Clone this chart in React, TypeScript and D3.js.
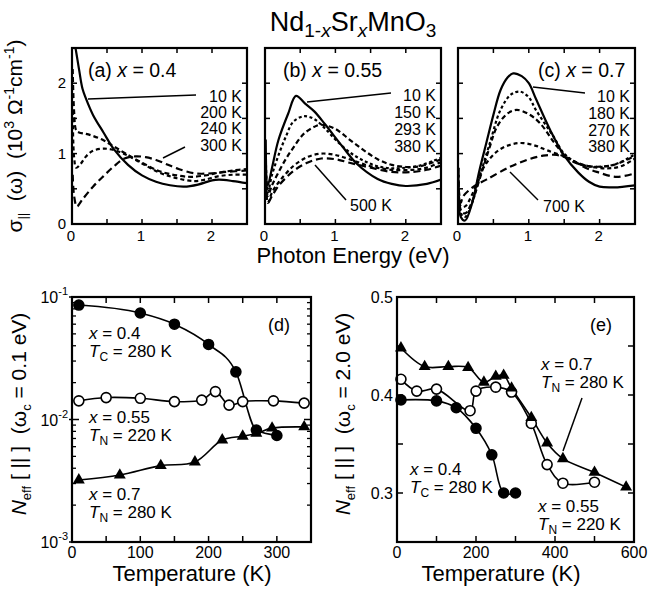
import React from 'react';
import * as d3 from 'd3';

const FONT = "'Liberation Sans', Arial, Helvetica, sans-serif";
type Pt = [number, number];

// ---------- Panel (a) x = 0.4 : [photon energy eV, sigma 10^3 S/cm]
const a10K: Pt[] = [[0.01,2.7],[0.05,2.5],[0.1,2.2],[0.15,1.92],[0.2,1.78],[0.3,1.55],[0.45,1.3],[0.6,1.06],[0.8,0.84],[1.0,0.69],[1.2,0.6],[1.4,0.55],[1.6,0.53],[1.8,0.56],[2.0,0.62],[2.1,0.63],[2.3,0.61],[2.5,0.58]];
const a200K: Pt[] = [[0.01,2.2],[0.03,1.6],[0.06,1.33],[0.1,1.3],[0.2,1.28],[0.3,1.25],[0.45,1.19],[0.6,1.1],[0.8,0.98],[1.0,0.87],[1.25,0.75],[1.5,0.69],[1.7,0.67],[1.9,0.69],[2.1,0.73],[2.3,0.76],[2.5,0.78]];
const a240K: Pt[] = [[0.01,1.6],[0.03,0.95],[0.06,0.8],[0.12,0.85],[0.2,0.96],[0.3,1.04],[0.45,1.07],[0.6,1.05],[0.8,0.97],[1.0,0.86],[1.25,0.73],[1.5,0.65],[1.75,0.61],[1.9,0.63],[2.1,0.68],[2.3,0.7],[2.5,0.7]];
const a300K: Pt[] = [[0.01,0.7],[0.03,0.4],[0.07,0.25],[0.15,0.35],[0.3,0.53],[0.45,0.68],[0.6,0.82],[0.75,0.93],[0.9,0.96],[1.05,0.95],[1.2,0.91],[1.35,0.85],[1.5,0.79],[1.75,0.72],[2.0,0.72],[2.2,0.74],[2.5,0.76]];

// ---------- Panel (b) x = 0.55
const b10K: Pt[] = [[0.01,1.2],[0.04,0.55],[0.1,0.8],[0.19,1.19],[0.33,1.57],[0.44,1.82],[0.57,1.71],[0.7,1.6],[0.85,1.42],[1.1,1.1],[1.3,0.86],[1.6,0.64],[1.8,0.57],[2.0,0.54],[2.3,0.57],[2.5,0.63]];
const b150K: Pt[] = [[0.01,1.0],[0.04,0.45],[0.1,0.7],[0.2,1.0],[0.3,1.25],[0.4,1.45],[0.55,1.53],[0.7,1.49],[0.85,1.36],[1.0,1.2],[1.2,1.02],[1.4,0.9],[1.6,0.82],[1.8,0.79],[2.0,0.8],[2.2,0.83],[2.4,0.9],[2.5,0.94]];
const b293K: Pt[] = [[0.01,0.8],[0.04,0.4],[0.1,0.55],[0.2,0.75],[0.3,0.93],[0.4,1.08],[0.55,1.28],[0.7,1.38],[0.8,1.41],[1.0,1.35],[1.2,1.2],[1.4,1.05],[1.6,0.92],[1.8,0.84],[2.0,0.81],[2.2,0.82],[2.4,0.88],[2.5,0.92]];
const b380K: Pt[] = [[0.01,0.7],[0.04,0.3],[0.1,0.45],[0.2,0.6],[0.4,0.82],[0.6,0.95],[0.8,1.0],[1.0,0.98],[1.2,0.92],[1.5,0.82],[1.8,0.77],[2.1,0.77],[2.3,0.8],[2.5,0.88]];
const b500K: Pt[] = [[0.01,0.6],[0.04,0.3],[0.1,0.4],[0.2,0.55],[0.4,0.75],[0.6,0.87],[0.8,0.93],[1.0,0.92],[1.2,0.87],[1.5,0.8],[1.8,0.74],[2.1,0.74],[2.3,0.77],[2.5,0.83]];

// ---------- Panel (c) x = 0.7
const c10K: Pt[] = [[0.01,0.8],[0.04,0.1],[0.1,0.05],[0.2,0.3],[0.3,0.75],[0.4,1.15],[0.5,1.55],[0.6,1.9],[0.7,2.08],[0.78,2.14],[0.9,2.1],[1.0,2.0],[1.1,1.78],[1.3,1.34],[1.5,0.97],[1.7,0.73],[1.85,0.6],[2.0,0.53],[2.2,0.52],[2.5,0.55]];
const c180K: Pt[] = [[0.01,0.7],[0.04,0.15],[0.1,0.1],[0.2,0.3],[0.3,0.65],[0.45,1.15],[0.6,1.62],[0.75,1.84],[0.88,1.88],[1.0,1.8],[1.1,1.62],[1.35,1.24],[1.5,1.0],[1.72,0.85],[2.0,0.81],[2.25,0.86],[2.5,0.99]];
const c270K: Pt[] = [[0.01,0.6],[0.04,0.2],[0.1,0.15],[0.2,0.32],[0.3,0.62],[0.45,1.1],[0.55,1.38],[0.7,1.57],[0.83,1.62],[1.0,1.56],[1.16,1.43],[1.4,1.1],[1.58,0.91],[1.86,0.82],[2.2,0.84],[2.5,0.97]];
const c380K: Pt[] = [[0.01,0.6],[0.04,0.25],[0.1,0.25],[0.2,0.42],[0.36,0.8],[0.55,1.03],[0.75,1.13],[0.92,1.15],[1.1,1.11],[1.25,1.05],[1.5,0.96],[1.77,0.84],[2.1,0.79],[2.3,0.82],[2.5,0.93]];
const c700K: Pt[] = [[0.01,0.5],[0.04,0.3],[0.07,0.39],[0.22,0.53],[0.4,0.63],[0.73,0.81],[1.0,0.92],[1.2,0.97],[1.4,0.98],[1.6,0.91],[1.8,0.8],[1.96,0.74],[2.24,0.67],[2.5,0.72]];

// ---------- Panel (d) N_eff (omega_c = 0.1 eV), log scale
const d04T = [10, 100, 150, 200, 240, 270, 300];
const d04V = [0.086, 0.074, 0.060, 0.041, 0.0245, 0.0082, 0.0074];
const d055T = [10, 50, 100, 150, 190, 210, 230, 250, 295, 340];
const d055V = [0.0142, 0.0151, 0.0149, 0.0140, 0.0144, 0.0169, 0.0131, 0.0140, 0.0142, 0.0136];
const d07T = [10, 70, 130, 180, 220, 250, 270, 293, 340];
const d07V = [0.00321, 0.00352, 0.0042, 0.0045, 0.0068, 0.0073, 0.0077, 0.0085, 0.0087];

// ---------- Panel (e) N_eff (omega_c = 2.0 eV)
const e04T = [10, 100, 150, 200, 240, 270, 300];
const e04V = [0.395, 0.394, 0.387, 0.366, 0.339, 0.300, 0.300];
const e055T = [10, 50, 100, 185, 200, 250, 290, 340, 380, 420, 500];
const e055V = [0.416, 0.404, 0.406, 0.384, 0.404, 0.408, 0.403, 0.371, 0.329, 0.310, 0.311];
const e07T = [10, 70, 130, 180, 220, 250, 270, 290, 340, 380, 420, 500, 580];
const e07V = [0.448, 0.429, 0.429, 0.428, 0.413, 0.419, 0.420, 0.407, 0.377, 0.351, 0.335, 0.321, 0.306];

const specXTicks = [0, 1, 2];
const specYTicks = [0, 1, 2];
const dXTicks = [0, 100, 200, 300];
const eXTicks = [0, 200, 400, 600];
const eYTicks = [0.3, 0.4, 0.5];

const TOP_T = 48, TOP_B = 224;
const BOT_T = 297, BOT_B = 542;

type Series = { data: Pt[]; dash?: string };
type Label = { text: string; y: number };

function SpecPanel({ id, left, right, series, yLabels, title, titleX, tempLabels, leaders, bottomLabel }: {
  id: string; left: number; right: number; series: Series[]; yLabels: boolean; title: string; titleX: number;
  tempLabels: Label[]; leaders: [number, number, number, number][]; bottomLabel: { text: string; x: number; y: number };
}) {
  const x = d3.scaleLinear().domain([0, 2.5]).range([left, right]);
  const y = d3.scaleLinear().domain([0, 2.5]).range([TOP_B, TOP_T]);
  const line = d3.line<Pt>().x(d => x(d[0])).y(d => y(d[1])).curve(d3.curveCatmullRom.alpha(0.5));
  const ticks = d3.range(0, 2.51, 0.5);
  const tl = 5;
  const titleParts = title.split('|');
  return (
    <g>
      <clipPath id={id}><rect x={left} y={TOP_T} width={right - left} height={TOP_B - TOP_T} /></clipPath>
      <g clipPath={`url(#${id})`}>
        {series.map((s, i) => (
          <path key={i} d={line(s.data) || ''} fill="none" stroke="#000" strokeWidth={2.2} strokeDasharray={s.dash} />
        ))}
      </g>
      {ticks.map(t => (
        <g key={t}>
          <line x1={x(t)} x2={x(t)} y1={TOP_B} y2={TOP_B - tl} stroke="#000" strokeWidth={1.5} />
          <line x1={x(t)} x2={x(t)} y1={TOP_T} y2={TOP_T + tl} stroke="#000" strokeWidth={1.5} />
          <line x1={left} x2={left + tl} y1={y(t)} y2={y(t)} stroke="#000" strokeWidth={1.5} />
          <line x1={right} x2={right - tl} y1={y(t)} y2={y(t)} stroke="#000" strokeWidth={1.5} />
        </g>
      ))}
      <rect x={left} y={TOP_T} width={right - left} height={TOP_B - TOP_T} fill="none" stroke="#000" strokeWidth={2.2} />
      {specXTicks.map(t => (
        <text key={t} x={x(t) - 1} y={TOP_B + 17} fontSize={15} textAnchor="middle">{t}</text>
      ))}
      {yLabels && specYTicks.map(t => (
        <text key={t} x={left - 6} y={y(t) + 5} fontSize={15} textAnchor="end">{t}</text>
      ))}
      <text x={titleX} y={TOP_T + 29} fontSize={19.5} xmlSpace="preserve" style={{ whiteSpace: 'pre' }}>
        {titleParts[0]}<tspan fontStyle="italic">x</tspan>{titleParts[1]}
      </text>
      {tempLabels.map(l => (
        <text key={l.text} x={right - 5} y={l.y} fontSize={16} textAnchor="end">{l.text}</text>
      ))}
      {leaders.map((l, i) => (
        <line key={i} x1={l[0]} y1={l[1]} x2={l[2]} y2={l[3]} stroke="#000" strokeWidth={1.5} />
      ))}
      <text x={bottomLabel.x} y={bottomLabel.y} fontSize={16}>{bottomLabel.text}</text>
    </g>
  );
}

function Markers({ xs, ys, kind }: { xs: number[]; ys: number[]; kind: 'filled' | 'open' | 'tri' }) {
  const tri = d3.symbol().type(d3.symbolTriangle).size(62)() || '';
  return (
    <g>
      {xs.map((xv, i) => kind === 'tri'
        ? <path key={i} d={tri} transform={`translate(${xv},${ys[i]})`} fill="#000" />
        : <circle key={i} cx={xv} cy={ys[i]} r={5} fill={kind === 'filled' ? '#000' : '#fff'} stroke="#000" strokeWidth={1.6} />)}
    </g>
  );
}

function NeffLabel({ x, y, wc }: { x: number; y: number; wc: string }) {
  return (
    <text transform={`translate(${x},${y}) rotate(-90)`} fontSize={21} textAnchor="middle" xmlSpace="preserve" style={{ whiteSpace: 'pre' }}>
      <tspan fontStyle="italic">N</tspan>
      <tspan fontSize={13} dy={5}>eff</tspan>
      <tspan dy={-5}>{' [ || ]  (ω'}</tspan>
      <tspan fontSize={13} dy={5}>c</tspan>
      <tspan dy={-5}>{` = ${wc} eV)`}</tspan>
    </text>
  );
}

function Annot({ x, y, xv, sub, tv }: { x: number; y: number; xv: string; sub: string; tv: string }) {
  return (
    <g fontSize={17}>
      <text x={x} y={y} xmlSpace="preserve" style={{ whiteSpace: 'pre' }}>
        <tspan fontStyle="italic">x</tspan>{` = ${xv}`}
      </text>
      <text x={x} y={y + 18} xmlSpace="preserve" style={{ whiteSpace: 'pre' }}>
        <tspan fontStyle="italic">T</tspan>
        <tspan fontSize={12} dy={4}>{sub}</tspan>
        <tspan dy={-4}>{` = ${tv} K`}</tspan>
      </text>
    </g>
  );
}

function PanelD() {
  const L = 72, R = 311;
  const x = d3.scaleLinear().domain([0, 350]).range([L, R]);
  const y = d3.scaleLog().domain([1e-3, 1e-1]).range([BOT_B, BOT_T]);
  const curve = d3.curveCatmullRom.alpha(0.5);
  const ln = d3.line<[number, number]>().x(d => x(d[0])).y(d => y(d[1])).curve(curve);
  const lnMono = d3.line<[number, number]>().x(d => x(d[0])).y(d => y(d[1])).curve(d3.curveMonotoneX);
  const z = (ts: number[], vs: number[]) => ts.map((t, i) => [t, vs[i]] as [number, number]);
  const minor: number[] = [];
  [1e-3, 1e-2].forEach(dec => { for (let k = 2; k <= 9; k++) minor.push(k * dec); });
  const xt = d3.range(0, 351, 50);
  return (
    <g>
      <path d={lnMono(z(d04T, d04V)) || ''} fill="none" stroke="#000" strokeWidth={1.6} />
      <path d={ln(z(d055T, d055V)) || ''} fill="none" stroke="#000" strokeWidth={1.6} />
      <path d={ln(z(d07T, d07V)) || ''} fill="none" stroke="#000" strokeWidth={1.6} />
      <Markers xs={d04T.map(x)} ys={d04V.map(y)} kind="filled" />
      <Markers xs={d055T.map(x)} ys={d055V.map(y)} kind="open" />
      <Markers xs={d07T.map(x)} ys={d07V.map(y)} kind="tri" />
      {xt.map(t => (
        <g key={t}>
          <line x1={x(t)} x2={x(t)} y1={BOT_B} y2={BOT_B - 6} stroke="#000" strokeWidth={1.5} />
          <line x1={x(t)} x2={x(t)} y1={BOT_T} y2={BOT_T + 6} stroke="#000" strokeWidth={1.5} />
        </g>
      ))}
      {[1e-3, 1e-2, 1e-1].map(v => (
        <g key={v}>
          <line x1={L - 3} x2={L + 7} y1={y(v)} y2={y(v)} stroke="#000" strokeWidth={1.5} />
          <line x1={R} x2={R - 7} y1={y(v)} y2={y(v)} stroke="#000" strokeWidth={1.5} />
        </g>
      ))}
      {minor.map(v => (
        <g key={v}>
          <line x1={L} x2={L + 4} y1={y(v)} y2={y(v)} stroke="#000" strokeWidth={1.3} />
          <line x1={R} x2={R - 4} y1={y(v)} y2={y(v)} stroke="#000" strokeWidth={1.3} />
        </g>
      ))}
      <rect x={L} y={BOT_T} width={R - L} height={BOT_B - BOT_T} fill="none" stroke="#000" strokeWidth={2.2} />
      {dXTicks.map(t => <text key={t} x={x(t)} y={BOT_B + 16} fontSize={16} textAnchor="middle">{t}</text>)}
      {[[-1, 1e-1], [-2, 1e-2], [-3, 1e-3]].map(([e, v]) => (
        <text key={e} x={L - 4} y={y(v) + 6} fontSize={16} textAnchor="end">
          10<tspan fontSize={11} dy={-8}>{String(e)}</tspan>
        </text>
      ))}
      <text x={268} y={331} fontSize={18}>(d)</text>
      <Annot x={89} y={339} xv="0.4" sub="C" tv="280" />
      <Annot x={89} y={423} xv="0.55" sub="N" tv="220" />
      <Annot x={89} y={500} xv="0.7" sub="N" tv="280" />
      <text x={192} y={581} fontSize={22} textAnchor="middle">Temperature (K)</text>
      <NeffLabel x={26} y={414} wc="0.1" />
    </g>
  );
}

function PanelE() {
  const L = 397, R = 634;
  const x = d3.scaleLinear().domain([0, 600]).range([L, R]);
  const y = d3.scaleLinear().domain([0.25, 0.5]).range([BOT_B, BOT_T]);
  const curve = d3.curveCatmullRom.alpha(0.5);
  const ln = d3.line<[number, number]>().x(d => x(d[0])).y(d => y(d[1])).curve(curve);
  const z = (ts: number[], vs: number[]) => ts.map((t, i) => [t, vs[i]] as [number, number]);
  const xt = d3.range(0, 601, 100);
  const yt = d3.range(0.25, 0.5001, 0.05);
  return (
    <g>
      <path d={ln(z(e04T, e04V)) || ''} fill="none" stroke="#000" strokeWidth={1.6} />
      <path d={ln(z(e055T, e055V)) || ''} fill="none" stroke="#000" strokeWidth={1.6} />
      <path d={ln(z(e07T, e07V)) || ''} fill="none" stroke="#000" strokeWidth={1.6} />
      <Markers xs={e04T.map(x)} ys={e04V.map(y)} kind="filled" />
      <Markers xs={e055T.map(x)} ys={e055V.map(y)} kind="open" />
      <Markers xs={e07T.map(x)} ys={e07V.map(y)} kind="tri" />
      {xt.map(t => (
        <g key={t}>
          <line x1={x(t)} x2={x(t)} y1={BOT_B} y2={BOT_B - 6} stroke="#000" strokeWidth={1.5} />
          <line x1={x(t)} x2={x(t)} y1={BOT_T} y2={BOT_T + 6} stroke="#000" strokeWidth={1.5} />
        </g>
      ))}
      {yt.map(t => (
        <g key={t}>
          <line x1={L} x2={L + 6} y1={y(t)} y2={y(t)} stroke="#000" strokeWidth={1.5} />
          <line x1={R} x2={R - 6} y1={y(t)} y2={y(t)} stroke="#000" strokeWidth={1.5} />
        </g>
      ))}
      <rect x={L} y={BOT_T} width={R - L} height={BOT_B - BOT_T} fill="none" stroke="#000" strokeWidth={2.2} />
      {eXTicks.map(t => <text key={t} x={x(t)} y={BOT_B + 16} fontSize={16} textAnchor="middle">{t}</text>)}
      {eYTicks.map(t => <text key={t} x={L - 4} y={y(t) + 6} fontSize={16} textAnchor="end">{t.toFixed(1)}</text>)}
      <text x={590} y={331} fontSize={18}>(e)</text>
      <Annot x={541} y={370} xv="0.7" sub="N" tv="280" />
      <line x1={582} y1={398} x2={563} y2={451} stroke="#000" strokeWidth={1.5} />
      <Annot x={410} y={475} xv="0.4" sub="C" tv="280" />
      <Annot x={538} y={512} xv="0.55" sub="N" tv="220" />
      <text x={501} y={581} fontSize={22} textAnchor="middle">Temperature (K)</text>
      <NeffLabel x={350} y={414} wc="2.0" />
    </g>
  );
}

export default function App() {
  return (
    <svg width={649} height={591} style={{ position: 'absolute', left: 0, top: 0, background: '#fff' }}
      fontFamily={FONT}>
      <rect width={649} height={591} fill="#fff" />
      <text x={353} y={31} fontSize={27} textAnchor="middle">
        Nd<tspan fontSize={19} dy={6}>1-</tspan><tspan fontSize={19} fontStyle="italic">x</tspan>
        <tspan dy={-6}>Sr</tspan><tspan fontSize={19} dy={6} fontStyle="italic">x</tspan>
        <tspan dy={-6}>MnO</tspan><tspan fontSize={19} dy={6}>3</tspan>
      </text>
      <text transform="translate(22,136) rotate(-90)" fontSize={21} textAnchor="middle" xmlSpace="preserve" style={{ whiteSpace: 'pre' }}>
        σ<tspan fontSize={13} dy={5}>||</tspan>
        <tspan dy={-5}>{'  (ω)  (10'}</tspan>
        <tspan fontSize={14} dy={-8}>3</tspan>
        <tspan dy={8}>{' Ω'}</tspan>
        <tspan fontSize={14} dy={-8}>-1</tspan>
        <tspan dy={8}>cm</tspan>
        <tspan fontSize={14} dy={-8}>-1</tspan>
        <tspan dy={8}>)</tspan>
      </text>
      <SpecPanel id="ca" left={72} right={247} yLabels={true} title="(a) | = 0.4" titleX={88}
        series={[{ data: a10K }, { data: a200K, dash: '5,3' }, { data: a240K, dash: '4,3' }, { data: a300K, dash: '7,4' }]}
        tempLabels={[{ text: '10 K', y: 102 }, { text: '200 K', y: 118 }, { text: '240 K', y: 134 }, { text: '300 K', y: 151 }]}
        leaders={[[88, 99, 196, 95], [163, 158, 185, 147]]}
        bottomLabel={{ text: '', x: 0, y: 0 }} />
      <SpecPanel id="cb" left={265} right={441} yLabels={false} title="(b) | = 0.55" titleX={283}
        series={[{ data: b10K }, { data: b150K, dash: '3,2.5' }, { data: b293K, dash: '5,3' }, { data: b380K, dash: '4,3' }, { data: b500K, dash: '7,4' }]}
        tempLabels={[{ text: '10 K', y: 101 }, { text: '150 K', y: 118 }, { text: '293 K', y: 135 }, { text: '380 K', y: 152 }]}
        leaders={[[307, 102, 391, 93], [315, 165, 346, 200]]}
        bottomLabel={{ text: '500 K', x: 350, y: 211 }} />
      <SpecPanel id="cc" left={458} right={635} yLabels={false} title="(c) | = 0.7" titleX={538}
        series={[{ data: c10K }, { data: c180K, dash: '3,2.5' }, { data: c270K, dash: '5,3' }, { data: c380K, dash: '4,3' }, { data: c700K, dash: '7,4' }]}
        tempLabels={[{ text: '10 K', y: 102 }, { text: '180 K', y: 119 }, { text: '270 K', y: 136 }, { text: '380 K', y: 152 }]}
        leaders={[[533, 87, 585, 93], [510, 172, 538, 200]]}
        bottomLabel={{ text: '700 K', x: 543, y: 212 }} />
      <text x={353} y={263} fontSize={22} textAnchor="middle">Photon Energy (eV)</text>
      <PanelD />
      <PanelE />
    </svg>
  );
}
